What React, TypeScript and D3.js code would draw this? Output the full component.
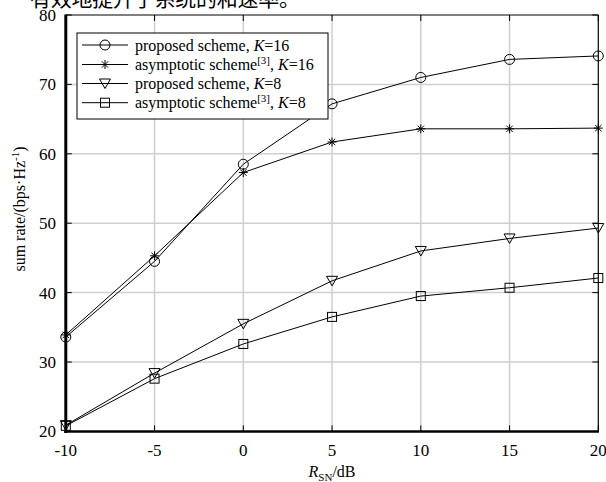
import React from "react";
import * as d3 from "d3";

const snr = [-10, -5, 0, 5, 10, 15, 20];
const proposedK16 = [33.6, 44.5, 58.5, 67.2, 71.0, 73.6, 74.1];
const asymptoticK16 = [33.9, 45.3, 57.3, 61.7, 63.6, 63.6, 63.7];
const proposedK8 = [20.9, 28.4, 35.5, 41.7, 46.0, 47.8, 49.3];
const asymptoticK8 = [20.8, 27.6, 32.6, 36.5, 39.5, 40.7, 42.1];
const xTicks = [-10, -5, 0, 5, 10, 15, 20];
const yTicks = [20, 30, 40, 50, 60, 70, 80];
const topText = "有效地提升了系统的和速率。";

const seriesList = [
  { name: "proposed scheme, ", k: "16", sup: false, values: proposedK16, marker: "circle" },
  { name: "asymptotic scheme", k: "16", sup: true, values: asymptoticK16, marker: "star" },
  { name: "proposed scheme, ", k: "8", sup: false, values: proposedK8, marker: "triangle" },
  { name: "asymptotic scheme", k: "8", sup: true, values: asymptoticK8, marker: "square" },
];

const W = 606, H = 482;
const L = 65.8, R = 598.3, T = 15, B = 431.4;
const FONT = "'Liberation Serif', 'Times New Roman', serif";

function Marker({ type, x, y }: { type: string; x: number; y: number }) {
  const s = { fill: "none", stroke: "#000", strokeWidth: 1 };
  if (type === "circle") return <circle cx={x} cy={y} r={5} {...s} />;
  if (type === "square") return <rect x={x - 4.5} y={y - 4.5} width={9} height={9} {...s} />;
  if (type === "triangle")
    return <path d={`M${x - 5.5},${y - 4.5}L${x + 5.5},${y - 4.5}L${x},${y + 5}Z`} {...s} />;
  const r = 4.5, d = 3.2;
  return (
    <path
      d={`M${x - r},${y}L${x + r},${y}M${x},${y - r}L${x},${y + r}M${x - d},${y - d}L${x + d},${y + d}M${x - d},${y + d}L${x + d},${y - d}`}
      stroke="#000"
      strokeWidth={1}
      fill="none"
    />
  );
}

export default function App() {
  const x = d3.scaleLinear().domain([-10, 20]).range([L, R]);
  const y = d3.scaleLinear().domain([20, 80]).range([B, T]);
  const line = d3
    .line<number>()
    .x((_, i) => x(snr[i]))
    .y((d) => y(d));

  const legX = 77, legY = 33, legW = 251, legH = 86;
  const rowY = [45, 64.5, 83.5, 102.7];

  return (
    <svg
      width={W}
      height={H}
      style={{ position: "absolute", left: 0, top: 0, background: "#fff" }}
      fontFamily={FONT}
    >
      <rect x={0} y={0} width={W} height={H} fill="#fff" />
      <text x={30} y={6} fontSize={21} fontFamily="'Noto Sans CJK SC', sans-serif" fill="#000" textLength={270}>
        {topText}
      </text>
      {/* grid */}
      {xTicks.slice(1, -1).map((t) => (
        <line key={"gx" + t} x1={x(t)} x2={x(t)} y1={T} y2={B} stroke="#cfcfcf" strokeWidth={1.5} />
      ))}
      {yTicks.slice(1, -1).map((t) => (
        <line key={"gy" + t} x1={L} x2={R} y1={y(t)} y2={y(t)} stroke="#cfcfcf" strokeWidth={1.5} />
      ))}
      {/* ticks */}
      {xTicks.map((t) => (
        <g key={"tx" + t}>
          <line x1={x(t)} x2={x(t)} y1={B} y2={B - 6} stroke="#000" strokeWidth={1} />
          <line x1={x(t)} x2={x(t)} y1={T} y2={T + 6} stroke="#000" strokeWidth={1} />
          <text x={x(t)} y={456} fontSize={17} textAnchor="middle" fill="#000">
            {t}
          </text>
        </g>
      ))}
      {yTicks.map((t) => (
        <g key={"ty" + t}>
          <line x1={L} x2={L + 6} y1={y(t)} y2={y(t)} stroke="#000" strokeWidth={1} />
          <line x1={R} x2={R - 6} y1={y(t)} y2={y(t)} stroke="#000" strokeWidth={1} />
          <text x={56} y={y(t) + 6} fontSize={17} textAnchor="end" fill="#000">
            {t}
          </text>
        </g>
      ))}
      {/* series */}
      {seriesList.map((s) => (
        <g key={s.name + s.k}>
          <path d={line(s.values) || ""} fill="none" stroke="#000" strokeWidth={1} />
          {s.values.map((v, i) => (
            <Marker key={i} type={s.marker} x={x(snr[i])} y={y(v)} />
          ))}
        </g>
      ))}
      {/* frame */}
      <line x1={L} x2={R} y1={T} y2={T} stroke="#000" strokeWidth={1.2} />
      <line x1={R} x2={R} y1={T} y2={B} stroke="#000" strokeWidth={1.2} />
      <line x1={L} x2={L} y1={T - 0.5} y2={B + 1.5} stroke="#000" strokeWidth={3} />
      <line x1={L - 1.5} x2={R + 0.6} y1={B} y2={B} stroke="#000" strokeWidth={2.5} />
      {/* legend */}
      <rect x={legX} y={legY} width={legW} height={legH} fill="#fff" stroke="#000" strokeWidth={1} />
      {seriesList.map((s, i) => (
        <g key={"lg" + i}>
          <line x1={82} x2={128} y1={rowY[i]} y2={rowY[i]} stroke="#000" strokeWidth={1} />
          <Marker type={s.marker} x={105} y={rowY[i]} />
          <text x={135} y={rowY[i] + 5.5} fontSize={16} fill="#000">
            {s.name}
            {s.sup ? (
              <>
                <tspan fontSize={11} dy={-6}>[3]</tspan>
                <tspan dy={6}>, </tspan>
              </>
            ) : null}
            <tspan fontStyle="italic">K</tspan>={s.k}
          </text>
        </g>
      ))}
      {/* axis labels */}
      <text
        transform={`translate(25,209) rotate(-90)`}
        fontSize={16}
        textAnchor="middle"
        fill="#000"
      >
        sum rate/(bps·Hz<tspan fontSize={11} dy={-6}>-1</tspan>
        <tspan dy={6}>)</tspan>
      </text>
      <text x={(L + R) / 2} y={477} fontSize={16} textAnchor="middle" fill="#000">
        <tspan fontStyle="italic">R</tspan>
        <tspan fontSize={11} dy={4}>SN</tspan>
        <tspan dy={-4}>/dB</tspan>
      </text>
    </svg>
  );
}
